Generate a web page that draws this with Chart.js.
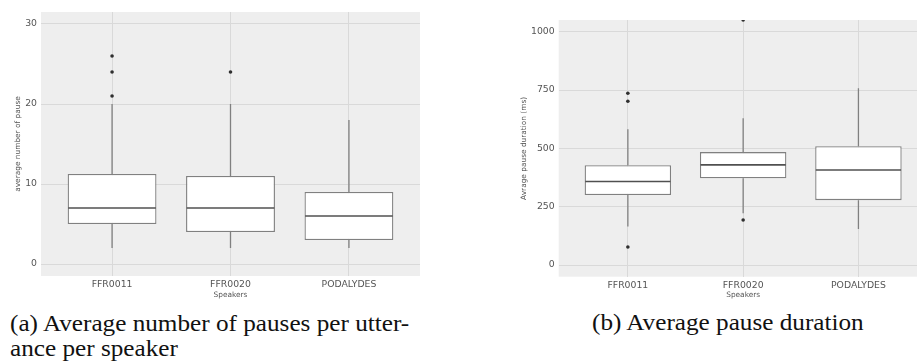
<!DOCTYPE html>
<html>
<head>
<meta charset="utf-8">
<script src="https://cdn.jsdelivr.net/npm/chart.js@4.4.1/dist/chart.umd.min.js"></script>
<style>
  html, body { margin: 0; padding: 0; background: #fff; overflow: hidden; }
  #page { position: relative; width: 917px; height: 361px; overflow: hidden; }
  canvas { position: absolute; top: 0; }
  .caption {
    position: absolute;
    font-family: "Liberation Serif", serif;
    font-size: 22.5px;
    line-height: 25px;
    color: #111;
    white-space: nowrap;
    transform: scaleX(1.12);
    transform-origin: 0 0;
  }
</style>
</head>
<body>
<div id="page">
  <canvas id="pauseCount" width="460" height="300" style="left:0"></canvas>
  <canvas id="pauseDuration" width="480" height="300" style="left:460px"></canvas>
  <div class="caption" style="left:10px; top:311px">(a) Average number of pauses per utter-<br>ance per speaker</div>
  <div class="caption" style="left:592px; top:310px">(b) Average pause duration</div>
</div>
<script>
const speakers = ['FFR0011', 'FFR0020', 'PODALYDES'];

// average number of pauses per utterance
const countLow = [2, 2, 2];
const countQ1 = [5, 4, 3];
const countMedian = [7, 7, 6];
const countQ3 = [11.25, 11, 9];
const countHigh = [20, 20, 18];
const countOutliers = [[21, 24, 26], [24], []];
const countTicks = [0, 10, 20, 30];

// average pause duration (ms)
const durLow = [165, 222, 154];
const durQ1 = [300, 372, 278];
const durMedian = [358, 429, 407];
const durQ3 = [428, 484, 509];
const durHigh = [582, 629, 758];
const durOutliers = [[77, 702, 736], [193, 1050], []];
const durTicks = [0, 250, 500, 750, 1000];

const TICK_FONT = { family: 'DejaVu Sans', size: 9.3 };
const TITLE_FONT = { family: 'DejaVu Sans', size: 7.4 };

// grey panel behind the plot area
const panelBg = {
  id: 'panelBg',
  beforeDraw(chart) {
    const { ctx, chartArea: a } = chart;
    ctx.save();
    ctx.fillStyle = '#eeeeee';
    ctx.fillRect(a.left, a.top, a.right - a.left, a.bottom - a.top);
    ctx.restore();
  }
};

// whiskers and median lines on top of the floating-bar boxes
const boxWhiskers = {
  id: 'boxWhiskers',
  afterDatasetsDraw(chart, args, opts) {
    const { ctx, chartArea: a } = chart;
    const xs = chart.scales.x, ys = chart.scales.y;
    const half = (xs.getPixelForValue(1) - xs.getPixelForValue(0)) * opts.width / 2;
    ctx.save();
    ctx.beginPath();
    ctx.rect(a.left, a.top, a.right - a.left, a.bottom - a.top);
    ctx.clip();
    for (let i = 0; i < opts.median.length; i++) {
      const x = xs.getPixelForValue(i);
      ctx.strokeStyle = '#808080';
      ctx.lineWidth = 1.3;
      ctx.beginPath();
      ctx.moveTo(x, ys.getPixelForValue(opts.q3[i]));
      ctx.lineTo(x, ys.getPixelForValue(opts.high[i]));
      ctx.moveTo(x, ys.getPixelForValue(opts.q1[i]));
      ctx.lineTo(x, ys.getPixelForValue(opts.low[i]));
      ctx.stroke();
      const ym = ys.getPixelForValue(opts.median[i]);
      ctx.strokeStyle = '#505050';
      ctx.lineWidth = 1.6;
      ctx.beginPath();
      ctx.moveTo(x - half + 0.6, ym);
      ctx.lineTo(x + half - 0.6, ym);
      ctx.stroke();
    }
    ctx.restore();
  }
};

function makeBoxChart(id, d) {
  const boxes = d.q1.map((v, i) => ({ x: i, y: [v, d.q3[i]] }));
  const points = [];
  d.outliers.forEach((list, i) => list.forEach(v => points.push({ x: i, y: v })));

  return new Chart(document.getElementById(id), {
    type: 'bar',
    data: {
      datasets: [
        {
          type: 'scatter',
          data: points,
          pointRadius: 1.8,
          pointBackgroundColor: '#2f2f2f',
          pointBorderWidth: 0,
          clip: 0,
          order: 0
        },
        {
          type: 'bar',
          data: boxes,
          backgroundColor: '#ffffff',
          borderColor: '#808080',
          borderWidth: 1.3,
          borderSkipped: false,
          barPercentage: 0.75,
          categoryPercentage: 1,
          order: 1
        }
      ]
    },
    options: {
      responsive: false,
      animation: false,
      layout: { padding: d.padding },
      plugins: {
        legend: { display: false },
        tooltip: { enabled: false },
        boxWhiskers: { low: d.low, q1: d.q1, median: d.median, q3: d.q3, high: d.high, width: 0.75 }
      },
      scales: {
        x: {
          type: 'linear',
          min: -0.6,
          max: 2.6,
          offset: false,
          afterFit(s) { s.height = d.xHeight; },
          afterBuildTicks(s) { s.ticks = speakers.map((_, i) => ({ value: i })); },
          ticks: {
            callback: v => speakers[v],
            font: TICK_FONT,
            color: '#555555',
            padding: 3,
            maxRotation: 0
          },
          grid: { color: '#d9d9d9', lineWidth: 1, drawTicks: false, offset: false },
          border: { display: false },
          title: { display: true, text: 'Speakers', font: TITLE_FONT, color: '#555555', padding: 0 }
        },
        y: {
          type: 'linear',
          min: d.yMin,
          max: d.yMax,
          afterFit(s) { s.width = d.yWidth; },
          afterBuildTicks(s) { s.ticks = d.ticks.map(v => ({ value: v })); },
          ticks: { font: TICK_FONT, color: '#555555', padding: 4, callback: v => String(v) },
          grid: { color: '#d9d9d9', lineWidth: 1, drawTicks: false },
          border: { display: false },
          title: { display: true, text: d.yTitle, font: TITLE_FONT, color: '#555555', padding: 0 }
        }
      }
    },
    plugins: [panelBg, boxWhiskers]
  });
}

makeBoxChart('pauseCount', {
  low: countLow, q1: countQ1, median: countMedian, q3: countQ3, high: countHigh,
  outliers: countOutliers, ticks: countTicks,
  yMin: -1.5, yMax: 31.5,
  yTitle: 'average number of pause',
  padding: { left: 13.6, right: 40, top: 12, bottom: 0 },
  yWidth: 27.4, xHeight: 24
});

makeBoxChart('pauseDuration', {
  low: durLow, q1: durQ1, median: durMedian, q3: durQ3, high: durHigh,
  outliers: durOutliers, ticks: durTicks,
  yMin: -50, yMax: 1050,
  yTitle: 'Avrage pause duration (ms)',
  padding: { left: 60, right: 12.4, top: 20, bottom: 0 },
  yWidth: 38.7, xHeight: 23.3
});
</script>
</body>
</html>
